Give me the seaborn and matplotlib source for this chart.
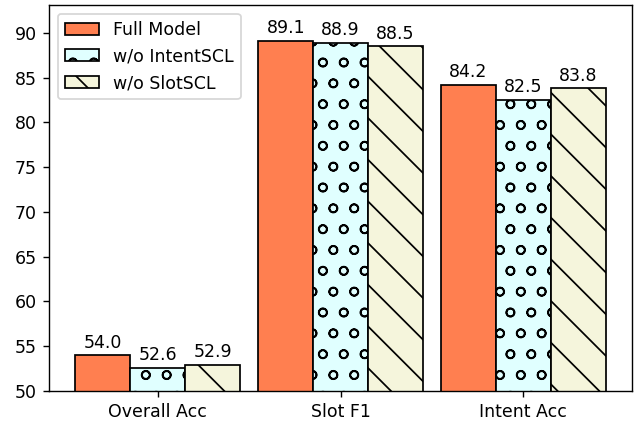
import matplotlib
matplotlib.use("Agg")
import matplotlib.pyplot as plt
import pandas as pd
import seaborn as sns

# values
metrics = ["Overall Acc", "Slot F1", "Intent Acc"]
models = ["Full Model", "w/o IntentSCL", "w/o SlotSCL"]
full_model = [54.0, 89.1, 84.2]
wo_intent = [52.6, 88.9, 82.5]
wo_slot = [52.9, 88.5, 83.8]

colors = ["#FF7F50", "#E0FFFF", "#F5F5DC"]
hatches = ["", "o", "\\"]

df = pd.DataFrame({
    "metric": metrics * 3,
    "model": [models[0]] * 3 + [models[1]] * 3 + [models[2]] * 3,
    "score": full_model + wo_intent + wo_slot,
})

fig, ax = plt.subplots(figsize=(5.088, 3.384), dpi=125)
sns.barplot(data=df, x="metric", y="score", hue="model", order=metrics,
            hue_order=models, palette=colors, width=0.9, gap=0,
            edgecolor="black", linewidth=1, saturation=1, ax=ax)

for cont, h in zip(ax.containers, hatches):
    for p in cont.patches:
        p.set_hatch(h)
    ax.bar_label(cont, fmt="%.1f", padding=2, fontsize=10)

# matplotlib-style 5% margins instead of seaborn's categorical limits
ax.set_xlim(-0.595, 2.595)
ax.set_ylim(50, 93.1)
ax.set_xlabel("")
ax.set_ylabel("")
ax.legend(handles=[c.patches[0] for c in ax.containers], labels=models,
          loc="upper left", fontsize=10)

fig.subplots_adjust(left=0.077, right=0.994, bottom=0.076, top=0.988)
fig.savefig("out.png", dpi=125)
plt.close(fig)
